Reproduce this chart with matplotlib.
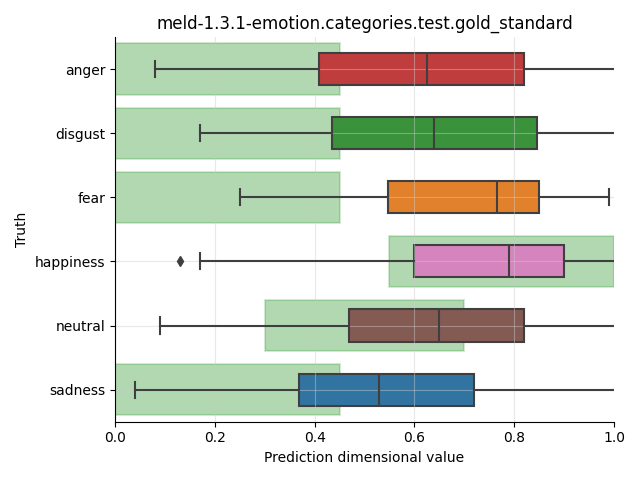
import matplotlib
matplotlib.use("Agg")
import matplotlib.pyplot as plt
import numpy as np

categories = ["anger", "disgust", "fear", "happiness", "neutral", "sadness"]
whislo = [0.08, 0.17, 0.25, 0.17, 0.09, 0.04]
q1 = [0.408, 0.434, 0.548, 0.599, 0.469, 0.368]
med = [0.625, 0.639, 0.766, 0.790, 0.649, 0.529]
q3 = [0.820, 0.846, 0.850, 0.900, 0.820, 0.720]
whishi = [1.01, 1.01, 0.990, 1.01, 1.01, 1.01]
fliers = [[], [], [], [0.131], [], []]
band_lo = [0.0, 0.0, 0.0, 0.55, 0.30, 0.0]
band_hi = [0.45, 0.45, 0.45, 1.0, 0.70, 0.45]
colors = ["#C03D3E", "#3A923A", "#E1812C", "#D684BD", "#845B53", "#3274A1"]

fig = plt.figure(figsize=(6.4, 4.8), dpi=100)
ax = fig.add_axes([0.1797, 0.1215, 0.9594 - 0.1797, 0.9229 - 0.1215])

pos = np.arange(len(categories))
ax.barh(pos, np.array(band_hi) - np.array(band_lo), left=band_lo, height=0.8,
        facecolor=(0, 0.5, 0, 0.3), edgecolor=(0, 0.55, 0, 0.18), linewidth=1.5, zorder=0.5)

stats = []
for i in range(len(categories)):
    stats.append(dict(whislo=whislo[i], q1=q1[i], med=med[i], q3=q3[i],
                      whishi=whishi[i], fliers=fliers[i]))
ec = "#3f3f3f"
bp = ax.bxp(stats, positions=pos, vert=False, widths=0.5, patch_artist=True,
            boxprops=dict(edgecolor=ec, linewidth=1.5),
            medianprops=dict(color=ec, linewidth=1.5),
            whiskerprops=dict(color=ec, linewidth=1.5),
            capprops=dict(color=ec, linewidth=1.5),
            flierprops=dict(marker="d", markerfacecolor=ec, markeredgecolor=ec, markersize=5),
            capwidths=0.25)
for patch, c in zip(bp["boxes"], colors):
    patch.set_facecolor(c)
    patch.set_zorder(1)
for art in bp["medians"] + bp["whiskers"] + bp["caps"] + bp["fliers"]:
    art.set_zorder(3)

ax.set_xlim(0, 1)
ax.set_ylim(5.5, -0.5)
ax.set_yticks(pos)
ax.set_yticklabels(categories)
ax.set_xticks([0.0, 0.2, 0.4, 0.6, 0.8, 1.0])
ax.grid(True, color="#cccccc", alpha=0.45, linewidth=0.8, zorder=2)
ax.set_axisbelow(False)
for s in ["top", "right"]:
    ax.spines[s].set_visible(False)
for s in ["left", "bottom"]:
    ax.spines[s].set_zorder(5)
ax.set_title("meld-1.3.1-emotion.categories.test.gold_standard")
ax.set_xlabel("Prediction dimensional value")
ax.set_ylabel("Truth")
fig.savefig("out.png", dpi=100)
